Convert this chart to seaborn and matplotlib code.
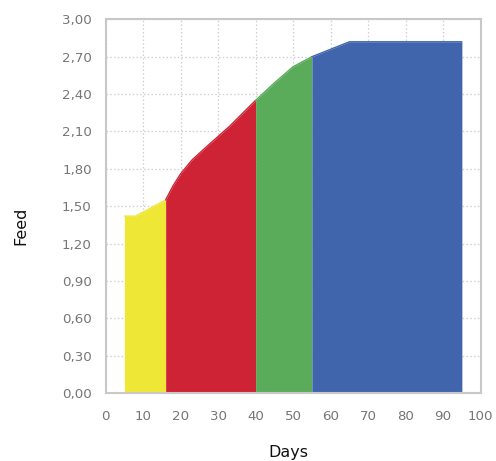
import matplotlib
matplotlib.use("Agg")
import matplotlib.pyplot as plt
import seaborn as sns
import pandas as pd
import numpy as np

days = [5, 8, 16, 18, 20, 23, 27, 33, 40, 45, 50, 55, 65, 95]
feed = [1.42, 1.42, 1.55, 1.665, 1.76, 1.87, 1.98, 2.14, 2.35, 2.49, 2.62, 2.70, 2.82, 2.82]
phase_starts = [5, 16, 40, 55]
phase_ends = [16, 40, 55, 95]
phase_colors = ["#efe736", "#cd2335", "#5aab5a", "#4165ad"]

x_ticks = list(range(0, 101, 10))
y_ticks = [0.0, 0.3, 0.6, 0.9, 1.2, 1.5, 1.8, 2.1, 2.4, 2.7, 3.0]
y_tick_labels = ["0,00", "0,30", "0,60", "0,90", "1,20", "1,50", "1,80", "2,10", "2,40", "2,70", "3,00"]

sns.set_theme(style="white")
plt.rcParams['font.family'] = ['DejaVu Sans']

fig = plt.figure(figsize=(4.96, 4.61), dpi=100)
ax = fig.add_axes([0.213, 0.1475, 0.756, 0.8105])

df = pd.DataFrame({"Days": days, "Feed": feed})
d = np.array(days)
for s, e, c in zip(phase_starts, phase_ends, phase_colors):
    m = (d >= s) & (d <= e)
    sub = df[m]
    ax.fill_between(sub["Days"], 0, sub["Feed"], color=c, linewidth=0, zorder=2)
    sns.lineplot(data=sub, x="Days", y="Feed", color=c, linewidth=1, ax=ax, zorder=3)

ax.set_xlim(0, 100)
ax.set_ylim(0, 3.0)
ax.set_xticks(x_ticks)
ax.set_yticks(y_ticks)
ax.set_yticklabels(y_tick_labels)
ax.grid(True, linestyle=(0, (1.2, 1.8)), color="#cfcfcf", linewidth=0.9, zorder=0)
ax.set_axisbelow(True)
for sp in ax.spines.values():
    sp.set_color("#c8c8c8")
    sp.set_linewidth(1.5)
ax.tick_params(axis="x", length=0, labelsize=9.6, labelcolor="#767676", pad=12)
ax.tick_params(axis="y", length=0, labelsize=9.6, labelcolor="#767676", pad=10)
ax.set_xlabel("")
ax.set_ylabel("")
fig.text(288 / 496, 1 - 452 / 461, "Days", fontsize=11.5, color="#111111",
         ha="center", va="center")
fig.text(21 / 496, 1 - 226 / 461, "Feed", fontsize=11.5, color="#111111",
         ha="center", va="center", rotation=90)

fig.savefig("out.png", dpi=100)
